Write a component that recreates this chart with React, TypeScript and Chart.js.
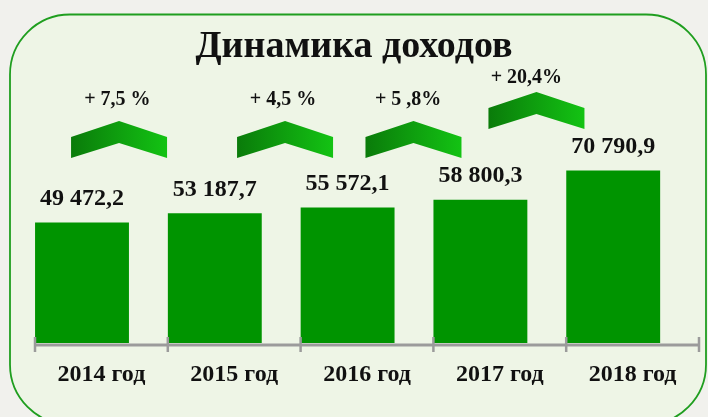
import React, { useEffect, useRef } from "react";
import { Chart, registerables } from "chart.js";

Chart.register(...registerables);

// ---- data ----
const categories = ["2014 год", "2015 год", "2016 год", "2017 год", "2018 год"];
const revenues = [49472.2, 53187.7, 55572.1, 58800.3, 70790.9];
const growthLabels = ["+ 7,5 %", "+ 4,5 %", "+ 5 ,8%", "+ 20,4%"];
const chartTitle = "Динамика доходов";

// ---- layout of decorations (category-index units / pixels) ----
const ARROW_AT = [0.133, 1.383, 2.35, 3.276];
const ARROW_TOP = [121, 121, 121, 92];
const GROWTH_TEXT_AT = [0.12, 1.367, 2.31, 3.2];
const GROWTH_TEXT_Y = [100, 100, 100, 78];

const SERIF = '"Liberation Serif", "Times New Roman", serif';

function fmt(v: number): string {
  const [i, d] = v.toFixed(1).split(".");
  return i.replace(/\B(?=(\d{3})+(?!\d))/g, " ") + "," + d;
}

function roundRect(ctx: CanvasRenderingContext2D, x: number, y: number, w: number, h: number, r: number) {
  ctx.beginPath();
  ctx.moveTo(x + r, y);
  ctx.lineTo(x + w - r, y);
  ctx.arcTo(x + w, y, x + w, y + r, r);
  ctx.lineTo(x + w, y + h - r);
  ctx.arcTo(x + w, y + h, x + w - r, y + h, r);
  ctx.lineTo(x + r, y + h);
  ctx.arcTo(x, y + h, x, y + h - r, r);
  ctx.lineTo(x, y + r);
  ctx.arcTo(x, y, x + r, y, r);
  ctx.closePath();
}

const decorPlugin = {
  id: "decor",
  beforeDraw(chart: any) {
    const ctx: CanvasRenderingContext2D = chart.ctx;
    const W = chart.width, H = chart.height;
    ctx.save();
    ctx.fillStyle = "#f1f1ed";
    ctx.fillRect(0, 0, W, H);
    roundRect(ctx, 10, 14.5, 696, 410, 60);
    ctx.fillStyle = "#eef5e6";
    ctx.fill();
    ctx.lineWidth = 1.8;
    ctx.strokeStyle = "#1f9e1f";
    ctx.stroke();
    ctx.restore();
  },
  afterDatasetsDraw(chart: any) {
    const ctx: CanvasRenderingContext2D = chart.ctx;
    const xs = chart.scales.x;
    const area = chart.chartArea;
    ctx.save();
    // axis line and tick marks
    const yAxis = area.bottom + 2;
    ctx.strokeStyle = "#9b9b9b";
    ctx.lineWidth = 3;
    ctx.beginPath();
    ctx.moveTo(area.left, yAxis);
    ctx.lineTo(area.right, yAxis);
    ctx.stroke();
    ctx.lineWidth = 2.5;
    for (let i = 0; i <= categories.length; i++) {
      const px = xs.getPixelForValue(i - 0.5);
      ctx.beginPath();
      ctx.moveTo(px, area.bottom - 6);
      ctx.lineTo(px, area.bottom + 9);
      ctx.stroke();
    }
    // value labels
    const meta = chart.getDatasetMeta(0);
    ctx.fillStyle = "#111";
    ctx.font = `bold 24px ${SERIF}`;
    ctx.textAlign = "center";
    ctx.textBaseline = "middle";
    meta.data.forEach((bar: any, i: number) => {
      ctx.fillText(fmt(revenues[i]), bar.x, bar.y - 24);
    });
    // arrows
    ARROW_AT.forEach((pos, i) => {
      const cx = xs.getPixelForValue(pos);
      const ty = ARROW_TOP[i];
      const g = ctx.createLinearGradient(cx - 48, 0, cx + 48, 0);
      g.addColorStop(0, "#0a7b0a");
      g.addColorStop(1, "#13c313");
      ctx.fillStyle = g;
      ctx.beginPath();
      ctx.moveTo(cx - 48, ty + 16);
      ctx.lineTo(cx, ty);
      ctx.lineTo(cx + 48, ty + 16);
      ctx.lineTo(cx + 48, ty + 37);
      ctx.lineTo(cx, ty + 22);
      ctx.lineTo(cx - 48, ty + 37);
      ctx.closePath();
      ctx.fill();
    });
    // growth labels
    ctx.fillStyle = "#111";
    ctx.font = `bold 20px ${SERIF}`;
    growthLabels.forEach((t, i) => {
      ctx.fillText(t, xs.getPixelForValue(GROWTH_TEXT_AT[i]), GROWTH_TEXT_Y[i]);
    });
    // title
    ctx.font = `bold 38px ${SERIF}`;
    ctx.fillText(chartTitle, 354, 47);
    ctx.restore();
  },
};

export default function App() {
  const ref = useRef<HTMLCanvasElement | null>(null);
  useEffect(() => {
    document.body.style.margin = "0";
    const canvas = ref.current;
    if (!canvas) return;
    const chart = new Chart(canvas, {
      type: "bar",
      data: {
        labels: categories,
        datasets: [
          {
            label: "Доходы",
            data: revenues,
            backgroundColor: "#009400",
            borderWidth: 0,
            categoryPercentage: 0.5843,
            barPercentage: 2.42,
          },
          {
            label: "",
            data: categories.map(() => null),
            backgroundColor: "rgba(0,0,0,0)",
            categoryPercentage: 0.5843,
            barPercentage: 2.42,
          },
        ],
      },
      options: {
        animation: false,
        responsive: true,
        maintainAspectRatio: false,
        layout: { padding: { left: 35, right: 9, top: 148, bottom: 10 } },
        plugins: {
          legend: { display: false },
          tooltip: { enabled: false },
          title: { display: false },
        },
        scales: {
          x: {
            offset: true,
            grid: { display: false, drawTicks: false },
            border: { display: false },
            ticks: {
              padding: 17.6,
              color: "#111",
              font: { family: SERIF, size: 24, weight: "bold" },
              maxRotation: 0,
              autoSkip: false,
            },
          },
          y: {
            display: false,
            min: 0,
            max: 80000,
          },
        },
      },
      plugins: [decorPlugin],
    });
    return () => chart.destroy();
  }, []);
  return (
    <div style={{ position: "relative", width: 708, height: 417 }}>
      <canvas ref={ref} />
    </div>
  );
}
